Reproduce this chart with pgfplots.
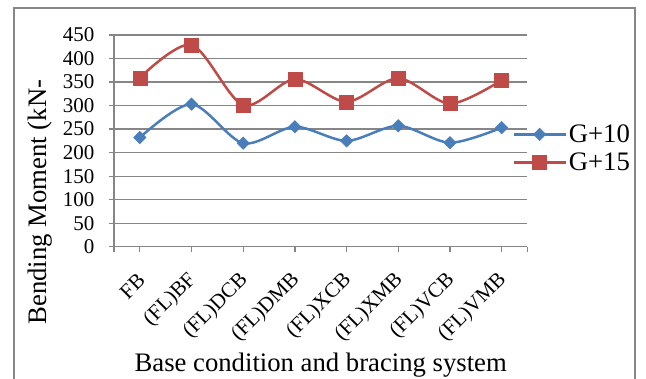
\documentclass[border=0pt]{standalone}
\usepackage{fontspec}
\setmainfont{Liberation Serif}
\usepackage{pgfplots}
\pgfplotsset{compat=1.18}
\definecolor{gten}{HTML}{4A7EBB}
\definecolor{gfif}{HTML}{BE4B48}
\definecolor{gridc}{HTML}{868686}
\begin{document}
\begin{tikzpicture}[x=1pt,y=1pt]
\useasboundingbox (0,0) rectangle (646,379);
\draw[gridc, line width=1.8pt] (14,371) rectangle (635,-20);
\begin{axis}[
  at={(114pt,132.3pt)}, anchor=south west,
  scale only axis, width=413.5pt, height=211.7pt,
  xmin=-0.5, xmax=7.5, ymin=0, ymax=450,
  ytick={0,50,...,450},
  xtick={0,...,7},
  extra x ticks={-0.5,7.5}, extra x tick labels={},
  xticklabels={FB,(FL)BF,(FL)DCB,(FL)DMB,(FL)XCB,(FL)XMB,(FL)VCB,(FL)VMB},
  x tick label style={xshift=4pt, yshift=-23pt, rotate=45, anchor=east, font=\fontsize{21}{21}\selectfont},
  y tick label style={font=\fontsize{21}{21}\selectfont, xshift=-11pt},
  /pgf/number format/assume math mode=true,
  axis x line*=bottom, axis y line*=left,
  axis line style={gridc, line width=1.2pt, -},
  ymajorgrids, grid style={gridc, line width=1.2pt},
  tick style={gridc, line width=1.2pt},
  tick align=outside, major tick length=5pt,
  xlabel={Base condition and bracing system},
  xlabel style={font=\fontsize{26.7}{26.7}\selectfont, at={(axis description cs:0.5,0)}, anchor=center, yshift=-118pt},
  ylabel={Bending Moment (kN-},
  ylabel style={font=\fontsize{26.7}{26.7}\selectfont, at={(axis description cs:-0.179,0.211)}, anchor=center},
  legend style={at={(axis description cs:0.963,0.464)}, anchor=west, draw=none, fill=none,
    font=\fontsize{26.7}{26.7}\selectfont, inner sep=0pt, row sep=7pt,
    nodes={inner xsep=2pt, inner ysep=1pt}},
  legend cell align=left,
  legend image code/.code={\draw[mark repeat=2,mark phase=2,#1] plot coordinates {(0pt,0pt) (26pt,0pt) (52pt,0pt)};},
]
\addplot[gten, line width=2.5pt, smooth, tension=0.5, mark=square*, mark size=4.4pt, mark options={rotate=45, fill=gten, line width=0.5pt}]
  coordinates {(0,232) (1,303) (2,220) (3,255) (4,225) (5,257) (6,221) (7,253)};
\addlegendentry{G+10}
\addplot[gfif, line width=2.5pt, smooth, tension=0.5, mark=square*, mark size=7pt, mark options={fill=gfif, line width=0.5pt}]
  coordinates {(0,359) (1,429) (2,301) (3,356) (4,308) (5,358) (6,304) (7,354)};
\addlegendentry{G+15}
\end{axis}
\end{tikzpicture}
\end{document}
